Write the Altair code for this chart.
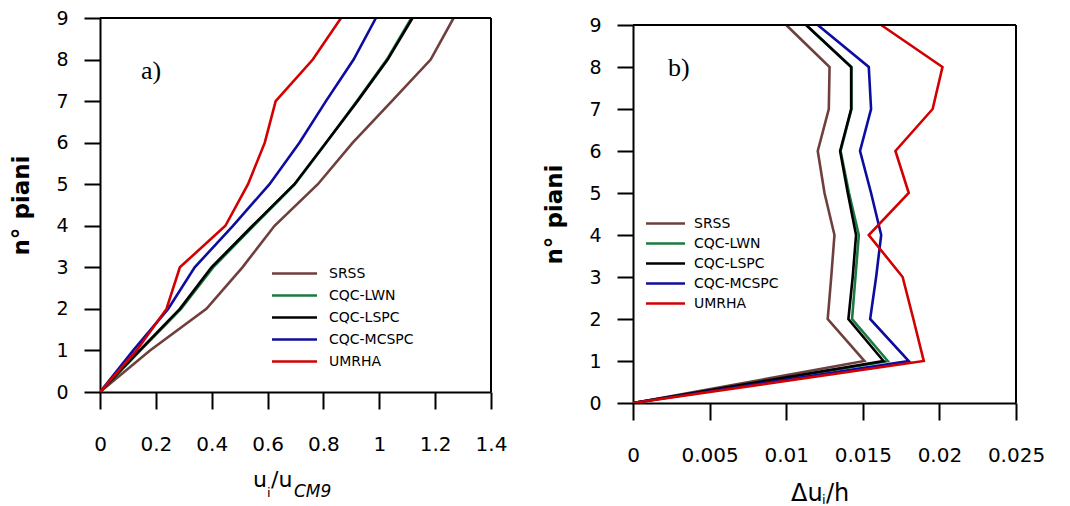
import altair as alt
import pandas as pd

floors = [0, 1, 2, 3, 4, 5, 6, 7, 8, 9]
series = ["SRSS", "CQC-LWN", "CQC-LSPC", "CQC-MCSPC", "UMRHA"]
colors = ["#6e3f3c", "#1b7a40", "#000000", "#0c0ca0", "#d20000"]

# panel a) : u_i / u_CM9
a_srss = [0, 0.179, 0.381, 0.510, 0.625, 0.780, 0.905, 1.045, 1.184, 1.266]
a_lwn = [0, 0.145, 0.290, 0.405, 0.550, 0.698, 0.810, 0.920, 1.027, 1.115]
a_lspc = [0, 0.142, 0.286, 0.399, 0.546, 0.696, 0.809, 0.922, 1.030, 1.119]
a_mcspc = [0, 0.119, 0.244, 0.339, 0.476, 0.607, 0.714, 0.809, 0.908, 0.988]
a_umrha = [0, 0.131, 0.238, 0.286, 0.449, 0.530, 0.590, 0.629, 0.762, 0.863]

# panel b) : delta u_i / h
b_srss = [0, 0.01510, 0.01271, 0.01294, 0.01315, 0.01250, 0.01206, 0.01278, 0.01283, 0.01000]
b_lwn = [0, 0.01663, 0.01430, 0.01452, 0.01474, 0.01410, 0.01355, 0.01426, 0.01426, 0.01130]
b_lspc = [0, 0.01635, 0.01406, 0.01434, 0.01456, 0.01402, 0.01352, 0.01424, 0.01424, 0.01130]
b_mcspc = [0, 0.01800, 0.01548, 0.01587, 0.01620, 0.01554, 0.01482, 0.01554, 0.01539, 0.01206]
b_umrha = [0, 0.01898, 0.01830, 0.01760, 0.01539, 0.01800, 0.01713, 0.01956, 0.02020, 0.01620]

a_ticks = [0, 0.1, 0.2, 0.3, 0.4, 0.5, 0.6, 0.7, 0.8, 0.9, 1.0, 1.1, 1.2, 1.3, 1.4]
b_ticks = [0, 0.0025, 0.005, 0.0075, 0.01, 0.0125, 0.015, 0.0175, 0.02, 0.0225, 0.025]


def make_df(all_vals):
    rows = []
    for s, vals in zip(series, all_vals):
        for f, v in zip(floors, vals):
            rows.append({"serie": s, "piano": f, "val": v})
    return pd.DataFrame(rows)


df_a = make_df([a_srss, a_lwn, a_lspc, a_mcspc, a_umrha])
df_b = make_df([b_srss, b_lwn, b_lspc, b_mcspc, b_umrha])

FONT = "DejaVu Sans"


def x_axis(ticks, mult):
    test = f"round(datum.value*{mult})%2==0"
    return alt.Axis(
        values=ticks,
        title=None,
        labelExpr=f"{test} ? format(datum.value, '~g') : ''",
        tickSize={"condition": {"test": test, "value": 17}, "value": 11},
        labelPadding=25,
        labelFontSize=20,
        labelFlush=False,
        labelOverlap=False,
        grid=False,
    )


y_axis = alt.Axis(
    values=floors,
    title="n° piani",
    titleFontSize=23,
    titleFontWeight="bold",
    titlePadding=22,
    tickSize=16,
    labelPadding=16,
    labelFontSize=19,
    grid=False,
)


def one():
    return alt.Data(values=[{}])


def txt(text, x, y, size, font=FONT, style="normal"):
    return alt.Chart(one()).mark_text(
        text=text, font=font, fontSize=size, fontStyle=style,
        align="left", baseline="alphabetic", color="black",
    ).encode(x=alt.value(x), y=alt.value(y))


def panel(df, domain, yrange, ticks, mult, legend, w):
    yscale = alt.Scale(domain=[0, 9], nice=False, range=yrange)
    xscale = alt.Scale(domain=domain, nice=False, zero=False)
    lines = alt.Chart(df).mark_line(strokeWidth=2.6, clip=True).encode(
        x=alt.X("val:Q", scale=xscale, axis=x_axis(ticks, mult)),
        y=alt.Y("piano:Q", scale=yscale, axis=y_axis),
        color=alt.Color("serie:N", scale=alt.Scale(domain=series, range=colors), sort=series, legend=legend),
        order=alt.Order("piano:Q"),
    )
    top = alt.Chart(one()).mark_rule(color="black", strokeWidth=2).encode(
        y=alt.datum(9), x=alt.value(0), x2=alt.value(w)
    )
    side = alt.Chart(one()).mark_rule(color="black", strokeWidth=2).encode(
        x=alt.datum(domain[1]), y=alt.datum(0), y2=alt.datum(9)
    )
    return [lines, top, side]


leg_a = alt.Legend(
    title=None, orient="none", legendX=187, legendY=248,
    symbolType="M-3.75,0H3.75", symbolSize=144, symbolStrokeWidth=2.5,
    labelFont=FONT, labelFontSize=14, labelColor="black", labelOffset=27,
    rowPadding=7,
)
leg_b = alt.Legend(
    title=None, orient="none", legendX=25, legendY=198,
    symbolType="M-3.25,0H3.25", symbolSize=144, symbolStrokeWidth=2.5,
    labelFont=FONT, labelFontSize=14, labelColor="black", labelOffset=21,
    rowPadding=5,
)

left = alt.layer(
    *panel(df_a, [0, 1.4], [374, 0], a_ticks, 10, leg_a, 391),
    txt("a)", 41, 61, 26, font="Liberation Serif"),
    txt("u", 153, 469, 22),
    txt("i", 167, 479, 13),
    txt("/u", 171, 469, 22),
    txt("CM9", 194, 479, 17, style="italic"),
).properties(width=391, height=374)

right = alt.layer(
    *panel(df_b, [0, 0.025], [385, 7], b_ticks, 400, leg_b, 383),
    txt("b)", 35, 58, 26, font="Liberation Serif"),
    txt("Δu", 158, 483, 24),
    txt("i", 189, 486, 13),
    txt("/h", 193, 483, 24),
).properties(width=383, height=385)

chart = alt.hconcat(left, right, spacing=35).resolve_scale(
    color="independent"
).resolve_legend(color="independent").properties(
    padding={"left": 2, "top": 0, "right": 0, "bottom": 0}
).configure_view(
    stroke="transparent"
).configure_axis(
    domainColor="black", domainWidth=2, tickColor="black", tickWidth=2,
    labelColor="black", titleColor="black", labelFont=FONT, titleFont=FONT,
)

chart.save("out.html", embed_options={"renderer": "svg", "actions": False})
